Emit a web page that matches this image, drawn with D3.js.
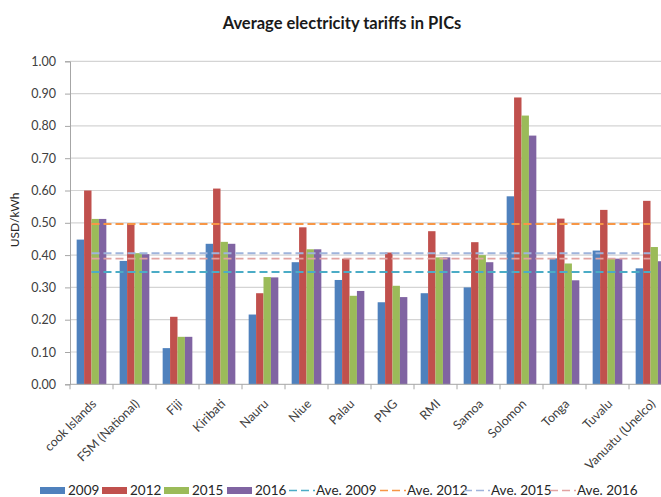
<!DOCTYPE html>
<html><head><meta charset="utf-8">
<script src="https://cdn.jsdelivr.net/npm/d3@7/dist/d3.min.js"></script>
<style>body{margin:0;background:#fff}svg{display:block}</style>
</head><body>
<svg id="c" width="661" height="497"></svg>
<script>
const categories = ["cook Islands","FSM (National)","Fiji","Kiribati","Nauru","Niue","Palau","PNG","RMI","Samoa","Solomon","Tonga","Tuvalu","Vanuatu (Unelco)"];
const years = ["2009","2012","2015","2016"];
const v2009 = [0.448,0.382,0.112,0.435,0.216,0.378,0.323,0.254,0.282,0.300,0.582,0.390,0.414,0.359];
const v2012 = [0.600,0.498,0.209,0.606,0.282,0.486,0.389,0.408,0.474,0.440,0.888,0.513,0.540,0.568];
const v2015 = [0.512,0.406,0.147,0.441,0.332,0.418,0.274,0.305,0.393,0.400,0.832,0.374,0.389,0.425];
const v2016 = [0.512,0.403,0.147,0.435,0.331,0.418,0.289,0.270,0.393,0.378,0.770,0.322,0.389,0.381];
const aveLabels = ["Ave. 2009","Ave. 2012","Ave. 2015","Ave. 2016"];
const aveValues = [0.348,0.496,0.406,0.389];
const yTicks = [0,0.1,0.2,0.3,0.4,0.5,0.6,0.7,0.8,0.9,1.0];

const barColors = ["#4f81bd","#c0504d","#9bbb59","#8064a2"];
const aveColors = ["#4bacc6","#f79646","#9fb4dc","#e2a3a2"];
const aveWidths = [2,2,2,1.6];
const series = [v2009,v2012,v2015,v2016];
const font = "Lato, 'Open Sans', sans-serif";

const svg = d3.select("#c");
const x = d3.scaleBand().domain(categories).range([70, 672]);
const bw = x.bandwidth();
const x1 = d3.scaleBand().domain(years).range([bw*0.155, bw*0.845]);
const y = d3.scaleLinear().domain([0,1]).range([384.3, 61.3]);

// title
svg.append("text").attr("x", 342).attr("y", 29).attr("text-anchor","middle")
  .attr("font-family", font).attr("font-weight","bold").attr("font-size", 16.5)
  .attr("fill","#1a1a1a").text("Average electricity tariffs in PICs");

// gridlines
svg.append("g").selectAll("line").data(yTicks.slice(1)).join("line")
  .attr("x1", 70).attr("x2", 661).attr("y1", d=>y(d)).attr("y2", d=>y(d))
  .attr("stroke","#d4d4d4").attr("stroke-width",1.2);

// y axis
const ya = svg.append("g").attr("transform","translate(70,0)")
  .call(d3.axisLeft(y).tickValues(yTicks).tickFormat(d3.format(".2f")).tickSize(5).tickPadding(9));
ya.select(".domain").attr("stroke","#a6a6a6");
ya.selectAll(".tick line").attr("stroke","#a6a6a6");
ya.selectAll("text").attr("font-family", font).attr("font-size", 12.5).attr("fill","#404040");

svg.append("text").attr("transform","translate(19,220) rotate(-90)").attr("text-anchor","middle")
  .attr("font-family", font).attr("font-size", 12).attr("fill","#262626").text("USD/kWh");

// bars
const groups = svg.append("g").selectAll("g").data(categories).join("g")
  .attr("transform", d=>`translate(${x(d)},0)`);
groups.selectAll("rect").data((d,i)=>years.map((yr,j)=>({yr, v: series[j][i], j}))).join("rect")
  .attr("x", d=>x1(d.yr)).attr("width", x1.bandwidth())
  .attr("y", d=>y(d.v)).attr("height", d=>y(0)-y(d.v))
  .attr("fill", d=>barColors[d.j]);

// x axis
svg.append("line").attr("x1",70).attr("x2",661).attr("y1",y(0)).attr("y2",y(0)).attr("stroke","#a6a6a6");
svg.append("g").selectAll("line").data(categories).join("line")
  .attr("x1", d=>x(d)).attr("x2", d=>x(d)).attr("y1", y(0)).attr("y2", y(0)+5).attr("stroke","#a6a6a6");
svg.append("g").selectAll("text").data(categories).join("text")
  .attr("transform", d=>`translate(${x(d)+bw/2-1},398) rotate(-45)`)
  .attr("text-anchor","end").attr("dy","0.75em")
  .attr("font-family", font).attr("font-size", 12.5).attr("fill","#404040").text(d=>d);

// average lines
const c0 = x(categories[0]) + bw/2, c1 = x(categories[categories.length-1]) + bw/2;
svg.append("g").selectAll("line").data(aveValues).join("line")
  .attr("x1", c0).attr("x2", c1).attr("y1", d=>y(d)).attr("y2", d=>y(d))
  .attr("stroke", (d,i)=>aveColors[i]).attr("stroke-width", (d,i)=>aveWidths[i])
  .attr("stroke-dasharray","8,4");

// legend
const leg = svg.append("g").attr("font-family", font).attr("font-size", 13.5).attr("fill","#262626");
const barLegX = [40,102,164,227];
years.forEach((yr,i)=>{
  leg.append("rect").attr("x", barLegX[i]).attr("y", 487).attr("width", 25).attr("height", 7).attr("fill", barColors[i]);
  leg.append("text").attr("x", barLegX[i]+28).attr("y", 495).text(yr);
});
const lineLegX = [287,378,462,548];
aveLabels.forEach((lb,i)=>{
  leg.append("line").attr("x1", lineLegX[i]).attr("x2", lineLegX[i]+28).attr("y1", 490.5).attr("y2", 490.5)
    .attr("stroke", aveColors[i]).attr("stroke-width", 1.6).attr("stroke-dasharray","8,4").attr("stroke-dashoffset", -2);
  leg.append("text").attr("x", lineLegX[i]+29).attr("y", 495).text(lb);
});
</script>
</body></html>
